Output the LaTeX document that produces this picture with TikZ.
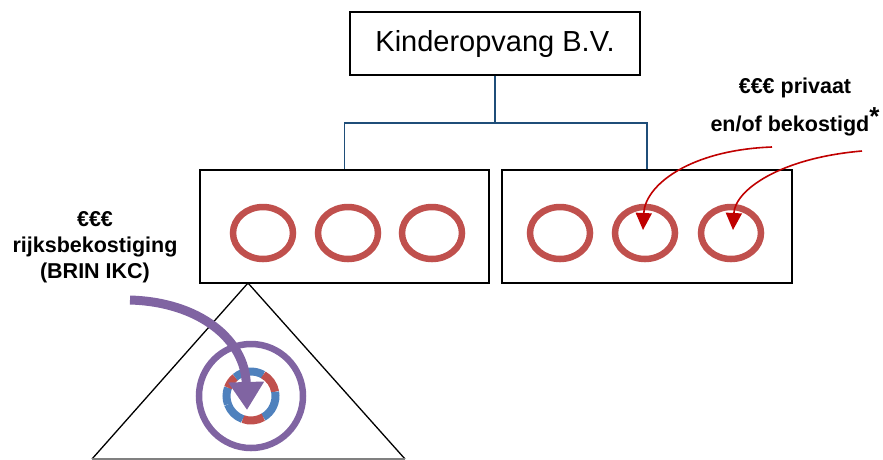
\documentclass[tikz,border=0pt]{standalone}
\usepackage{fontspec}
\setmainfont{Liberation Sans}
\usetikzlibrary{arrows.meta,shapes.geometric,calc}
\definecolor{cred}{RGB}{192,80,77}
\definecolor{cblue}{RGB}{79,129,189}
\definecolor{cpurple}{RGB}{128,100,162}
\definecolor{cline}{RGB}{31,78,121}
\definecolor{darr}{RGB}{192,0,0}
\tikzset{
  box/.style={draw=black, line width=1.3pt},
  ring/.style={draw=cred, line width=6.5pt},
  redarr/.style={draw=darr, line width=1.6pt, -{Triangle[length=17pt,width=16pt]}},
  lbl/.style={font=\bfseries\fontsize{21.5}{26}\selectfont, align=center},
}
\begin{document}
\begin{tikzpicture}[x=1pt,y=-1pt]
\useasboundingbox (0,0) rectangle (883,459);
% top box
\node[box, minimum width=290pt, minimum height=63pt, font=\fontsize{29}{34}\selectfont] (top) at (495,43.5) {Kinderopvang B.V.};
% group boxes
\node[box, minimum width=289pt, minimum height=113pt] (lb) at (344.5,226.5) {};
\node[box, minimum width=290pt, minimum height=113pt] (rb) at (647,226.5) {};
% connectors
\coordinate (j) at (495,123);
\draw[cline, line width=1.3pt] (top.south) -- (j) -| (lb.north);
\draw[cline, line width=1.3pt] (j) -| (rb.north);
% rings
\foreach \n/\x in {a/263,b/348,c/432,d/560,e/645,f/731}
  \node[ring, ellipse, minimum width=60pt, minimum height=52pt, inner sep=0pt] (r\n) at (\x,233) {};
% triangle
\coordinate (apex) at (248,283);
\coordinate (bl) at (92,459);
\coordinate (br) at (405,459);
\draw[line width=1.3pt] (bl) -- (apex) -- (br);
\draw[line width=1.3pt, gray] (bl) -- (br);
% purple circle
\node[draw=cpurple, line width=6.5pt, circle, minimum size=104pt, inner sep=0pt] (pc) at (251,396) {};
% segmented inner ring
\coordinate (ic) at (251,396);
\foreach \a/\b/\c in {160/200/cblue,130/160/cred,60/130/cblue,10/60/cred,-60/10/cblue,-110/-60/cred,-160/-110/cblue}
  \draw[\c, line width=8pt] ($(ic)+(\a:24.5pt)$) arc[start angle=\a, end angle=\b, radius=24.5pt];
% purple arrow
\coordinate (ps) at (130,300);
\coordinate (pt) at (247,410);
\draw[cpurple, line width=9pt, -{Triangle[length=28pt,width=34pt]}] (ps) .. controls (200,302) and (245,340) .. (pt);
% red arrows
\coordinate (s1) at (772,147);
\coordinate (s2) at (862,151);
\draw[redarr] (s1) .. controls (690,150) and (645,185) .. (643,230);
\draw[redarr] (s2) .. controls (780,158) and (735,190) .. (733,230);
% labels
\node[lbl] (t1) at (795,88) {€€€ privaat};
\node[lbl] (t2) at (795,122) {en/of bekostigd\raisebox{6pt}{\fontsize{26}{26}\selectfont *}};
\node[lbl] (t3) at (95,247) {€€€\\rijksbekostiging\\(BRIN IKC)};
\end{tikzpicture}
\end{document}
